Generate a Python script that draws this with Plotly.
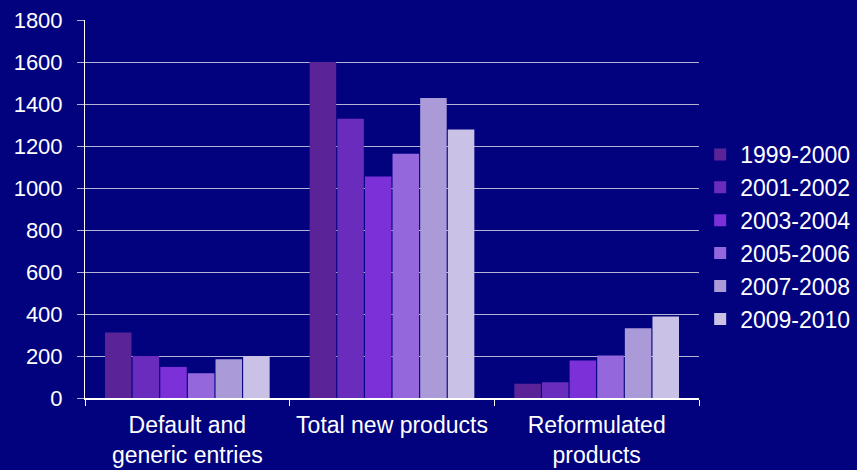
import plotly.graph_objects as go

categories = ["Default and<br>generic entries", "Total new products", "Reformulated<br>products"]
periods = ["1999-2000", "2001-2002", "2003-2004", "2005-2006", "2007-2008", "2009-2010"]
v_1999 = [312, 1600, 68]
v_2001 = [200, 1330, 75]
v_2003 = [148, 1055, 178]
v_2005 = [118, 1163, 202]
v_2007 = [185, 1428, 332]
v_2009 = [200, 1278, 388]
series = [v_1999, v_2001, v_2003, v_2005, v_2007, v_2009]
colors = ["#5a2498", "#6a2cbc", "#7b30d8", "#9468dc", "#ab9ad8", "#c9c2e6"]

fig = go.Figure()
for name, vals, c in zip(periods, series, colors):
    fig.add_trace(go.Bar(x=categories, y=vals, name=name,
                         marker=dict(color=c, line=dict(width=0))))

bg = "#02027f"
fig.update_layout(
    width=857, height=470,
    paper_bgcolor=bg, plot_bgcolor=bg,
    margin=dict(l=85, r=158, t=20, b=72),
    barmode="group", bargap=0.19, bargroupgap=0.04,
    font=dict(family="Liberation Sans, Arial", size=22, color="white"),
    legend=dict(xref="container", x=0.817, y=0.426, yanchor="middle", xanchor="left",
                font=dict(size=23, color="white"), tracegroupgap=0,
                itemwidth=30, bgcolor="rgba(0,0,0,0)"),
    showlegend=True,
)
fig.update_yaxes(range=[0, 1800], dtick=200, showgrid=True, gridcolor="#b4b4d2",
                 gridwidth=1, showline=True, linecolor="white", linewidth=1,
                 ticks="outside", ticklen=7, tickcolor="#b4b4d2", zeroline=False,
                 automargin=False, ticklabelstandoff=10,
                 tickfont=dict(size=22, color="white"))
fig.update_xaxes(showline=True, linecolor="white", linewidth=1.5,
                 ticks="outside", tickson="boundaries", ticklen=6, tickcolor="white",
                 tickangle=0, automargin=False, ticklabelstandoff=6,
                 tickfont=dict(size=23, color="white"))
fig.write_html("out.html", config={"displayModeBar": False},
               post_script="document.body.style.margin='0';document.body.style.background='%s';" % bg)
